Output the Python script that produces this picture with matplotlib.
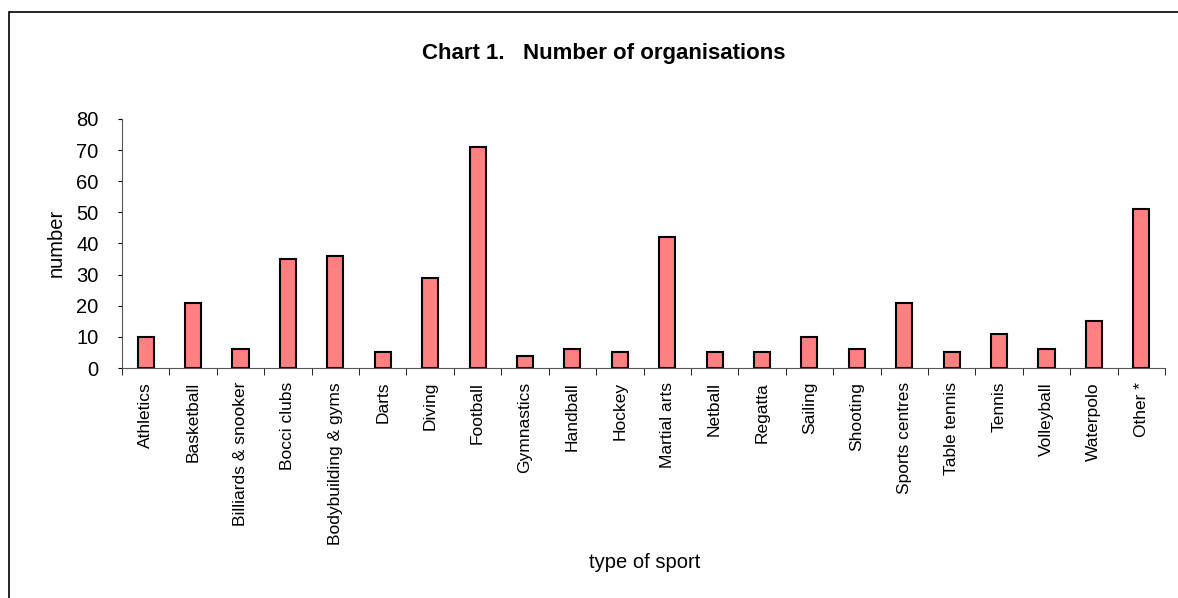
import matplotlib.pyplot as plt
from matplotlib.patches import Rectangle

sports = ["Athletics", "Basketball", "Billiards & snooker", "Bocci clubs",
          "Bodybuilding & gyms", "Darts", "Diving", "Football", "Gymnastics",
          "Handball", "Hockey", "Martial arts", "Netball", "Regatta", "Sailing",
          "Shooting", "Sports centres", "Table tennis", "Tennis", "Volleyball",
          "Waterpolo", "Other *"]
organisations = [10, 21, 6, 35, 36, 5, 29, 71, 4, 6, 5, 42, 5, 5, 10, 6, 21, 5, 11, 6, 15, 51]
y_ticks = [0, 10, 20, 30, 40, 50, 60, 70, 80]

plt.rcParams['font.family'] = ['Liberation Sans', 'DejaVu Sans']

fig = plt.figure(figsize=(11.78, 5.98), dpi=100)
W, H = 1178, 598
ax = fig.add_axes([122 / W, 1 - 368 / H, (1165 - 122) / W, (368 - 119) / H])

# frame around the chart (runs off the right and bottom edges)
fig.patches.append(Rectangle((9 / W, -0.1), 1.2, 1 - 12 / H + 0.1, transform=fig.transFigure,
                             fill=False, edgecolor='black', linewidth=1.2))

x = list(range(len(sports)))
ax.bar(x, organisations, width=0.34, color='#FF8080', edgecolor='black', linewidth=1.5, zorder=3)

ax.set_xlim(-0.5, len(sports) - 0.5)
ax.set_ylim(0, 80)
ax.set_yticks(y_ticks)
ax.tick_params(axis='y', labelsize=14.5, length=3, direction='out', pad=14)

# category labels at centers, tick marks at boundaries
ax.set_xticks(x)
ax.set_xticklabels(sports, rotation=90, fontsize=12.5)
ax.tick_params(axis='x', length=0, pad=10)
ax.set_xticks([i - 0.5 for i in range(len(sports) + 1)], minor=True)
ax.tick_params(axis='x', which='minor', length=5, direction='out')

for s in ['top', 'right']:
    ax.spines[s].set_visible(False)
ax.spines['left'].set_color('#555555')
ax.spines['bottom'].set_color('#555555')

fig.text(56 / W, 1 - 243 / H, "number", fontsize=14.5, rotation=90, ha='center', va='center')
fig.text(645 / W, 1 - 563 / H, "type of sport", fontsize=14.5, ha='center', va='center')
fig.text(604 / W, 1 - 53 / H, "Chart 1.   Number of organisations", fontsize=16,
         fontweight='bold', ha='center', va='center')

fig.savefig("out.png", dpi=100)
